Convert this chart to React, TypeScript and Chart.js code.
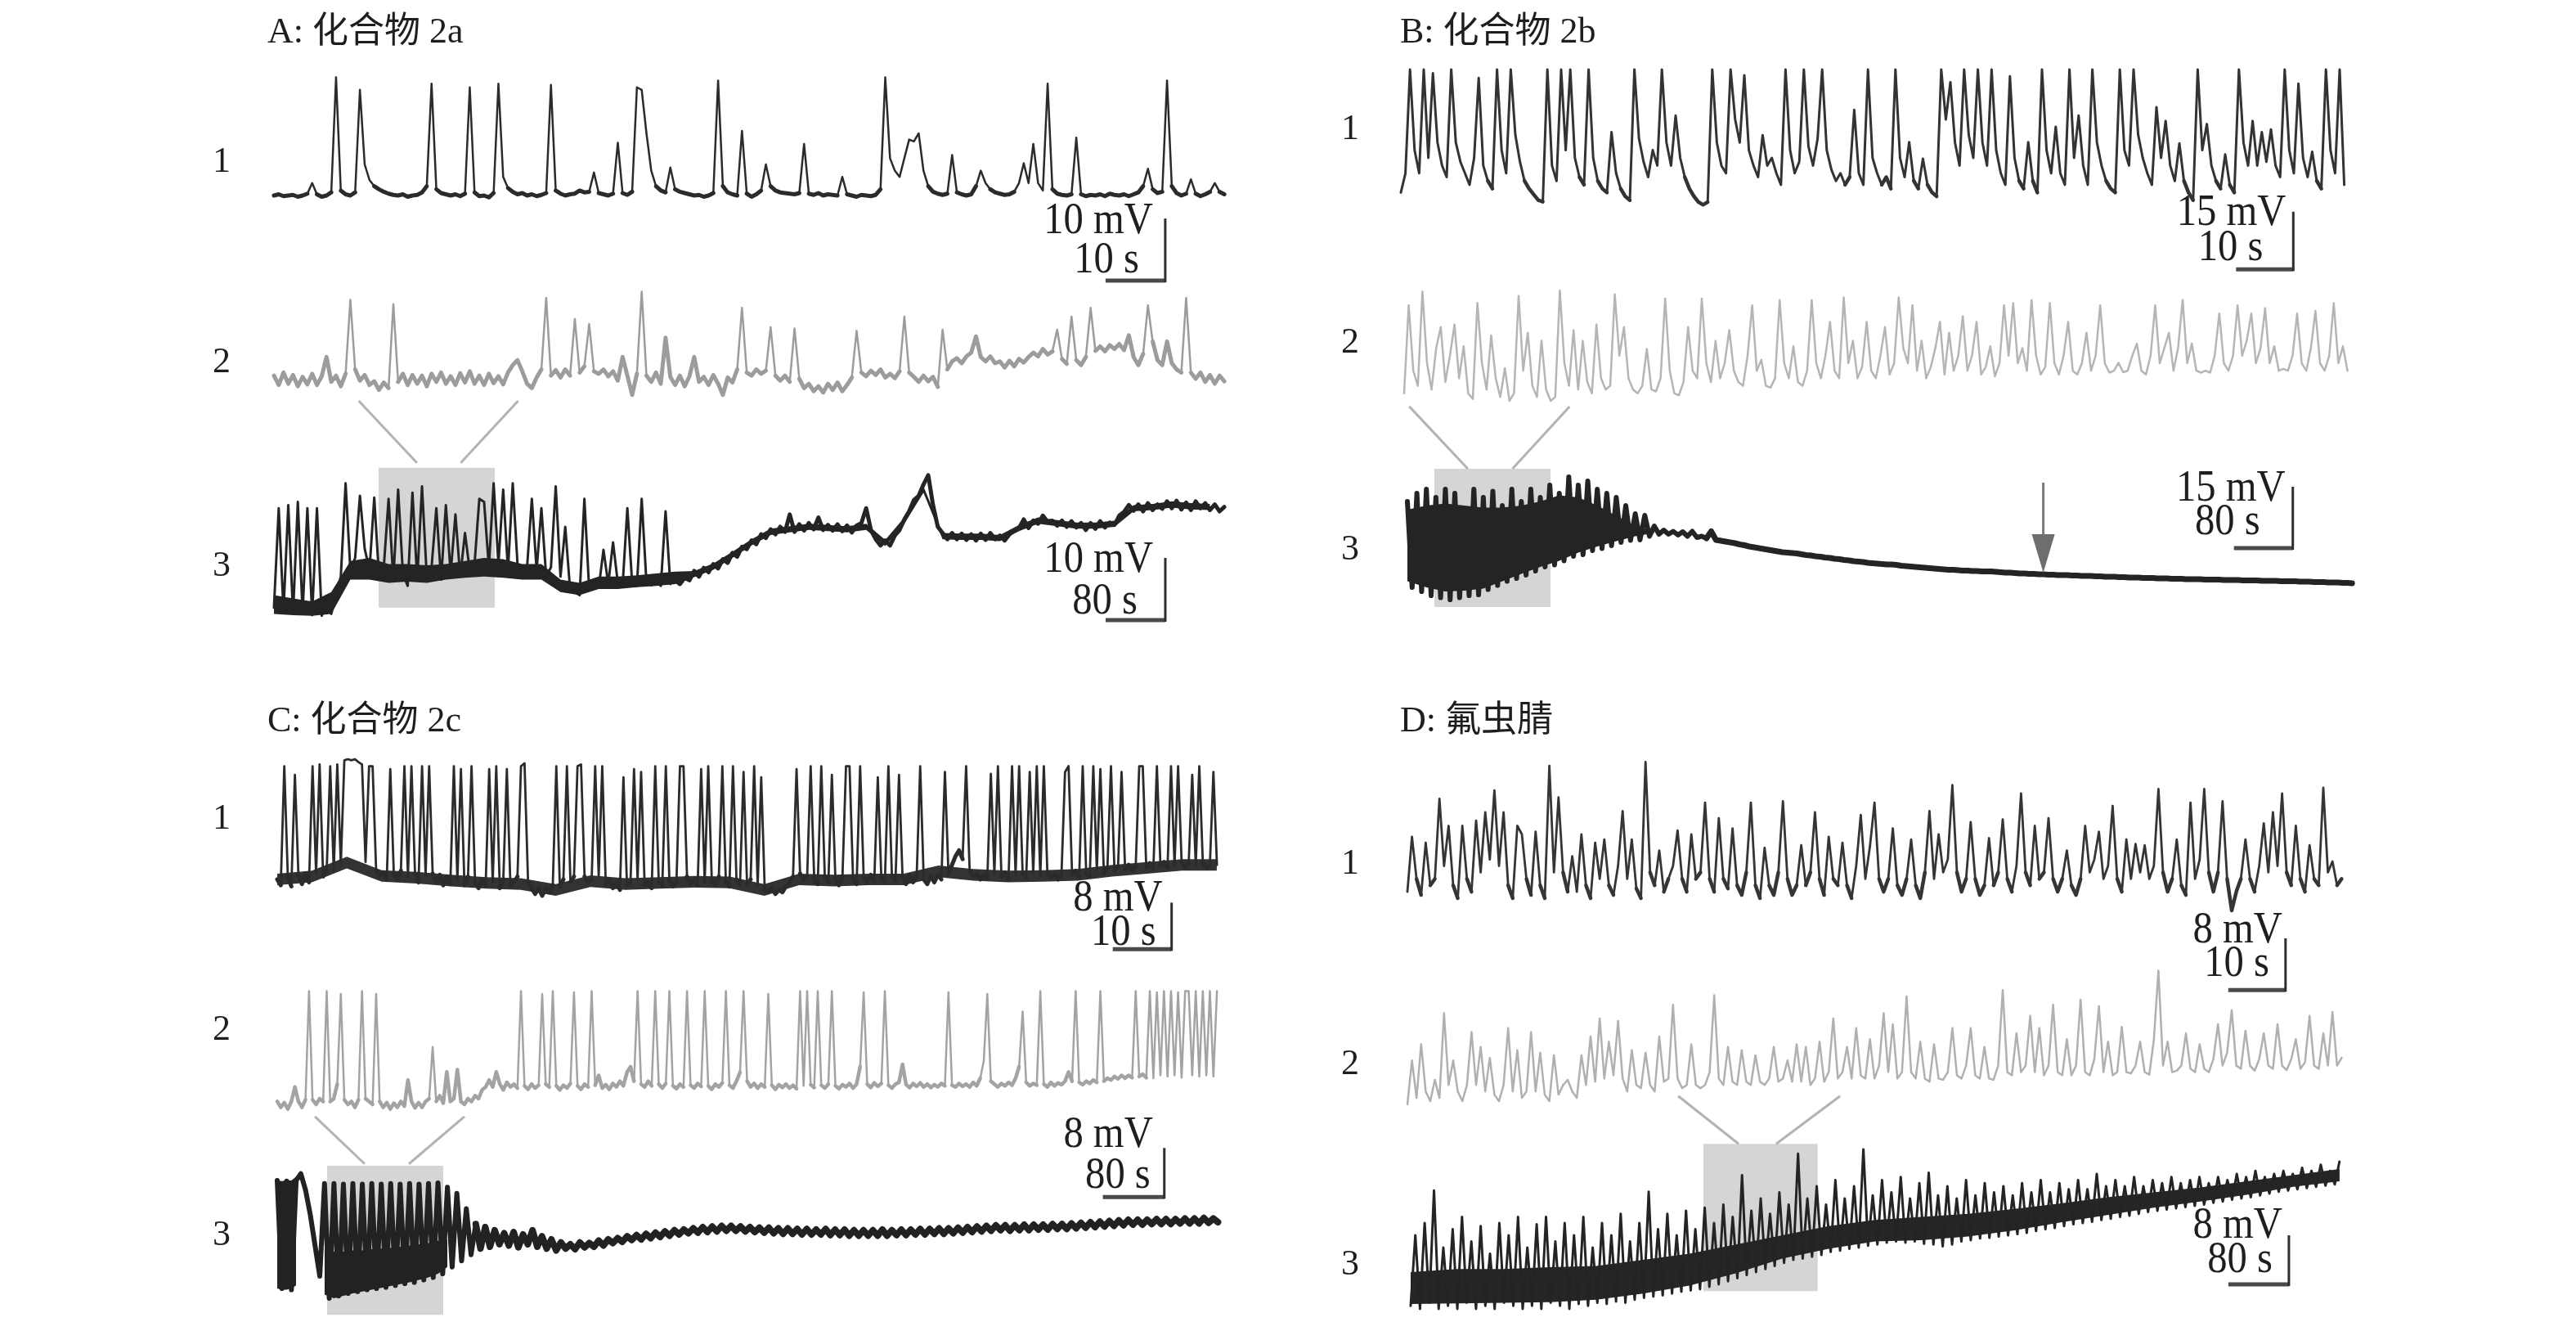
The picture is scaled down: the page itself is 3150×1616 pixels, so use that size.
import React, { useEffect, useRef } from "react";
import { Chart, registerables } from "chart.js";
Chart.register(...registerables);

const W = 3150;
const H = 1616;

// ---------------- data (mV, sampled at fixed step per trace) ----------------
const A1_MV = [0,.2,-.1,0,.1,-.2,0,.3,2,.2,
-.2,0,.5,19,.8,.2,0,.5,17,5,
2.5,1.5,1,.6,.3,.1,0,.2,-.2,0,
.1,.5,1.5,18,1,.4,.2,0,.2,-.1,
.3,17.4,.5,-.1,0,-.3,.4,18,3,1.2,
.6,.2,.4,0,.2,-.1,.1,.4,17.8,.8,
.3,0,.2,.3,.8,.5,.6,3.7,.4,.2,
0,.3,8.5,.4,.1,.6,17.4,17,10,4,
1.5,.8,.5,4.5,1,.6,.4,.2,0,.1,
-.2,0,.4,18.5,1.5,.5,.2,0,10.4,.3,
-.2,.2,.8,5,1.5,.8,.5,.4,.3,.2,
.4,8.3,.3,.1,.4,0,.2,.1,0,3,
.2,0,-.2,.1,0,-.1,.1,1,19,6,
4,3,6,9,8.7,10,4,1.5,.6,.3,
.1,.3,6.5,.5,.2,0,.2,1.5,4,2,
1,.5,.3,.1,.2,.6,2,5.2,2,8.3,
2,.8,18,1,.3,.1,0,.2,9.3,.2,
-.1,.1,0,.2,-.1,.3,.1,0,.2,-.1,
.2,.5,1.5,4.3,1,.4,.6,18.5,1.5,.4,
0,.3,2.6,.3,-.1,.2,.6,2,.6,.2];

const A2_MV = [0.5,-1,1,-0.8,0.6,-1.2,0.3,-0.9,0.8,-1,
0.4,3.5,-0.5,0.5,-1.2,0.8,12.7,1.5,-0.3,0.6,
-1,-0.4,-1.8,-0.6,-1.5,12,-0.5,0.8,-1,0.6,
-0.8,0.5,-1.2,0.8,-0.5,1,-0.8,0.4,-1,0.9,
-0.6,1.2,-0.8,0.5,-1,0.8,-0.7,0.4,-0.9,1,
2.2,3,1.2,-0.8,-1.5,0.2,1.5,13,0.5,1.4,
0.2,1.5,0.5,9.6,1,2,8.8,1.2,0.8,1.5,
0.4,1.2,-0.3,3.5,0.5,-2.6,0.8,14,0.5,-0.5,
1,-0.8,6.6,0.3,-1,0.5,-1.2,0.4,3.5,-0.5,
0.3,-1,0.6,-0.8,-2.6,0.2,-0.6,1.5,11.4,1,
0.5,1.5,0.8,1.3,8.3,0.5,-0.3,0.5,-0.5,8.1,
0,-1.5,-0.8,-2,-1.2,-2.2,-0.8,-1.8,-0.6,-2,
-1,0.2,7.7,1,0.4,1.3,0.6,1.5,0.2,0.8,
0.1,1.2,10,1,0.3,-0.5,0.5,-0.4,0.3,-1.3,
7.9,1.5,2.8,3.3,2.5,3.6,4.2,6.8,3.5,2.8,
3.6,2.5,2.8,1.8,2.9,2,3.2,2.6,3.5,4.2,
3.6,4.8,3.9,4.4,7.9,3.2,2.4,10,3,2.2,
3.5,11.4,4.5,5.2,4.4,5.4,4.8,5.6,4.6,7,
3.5,2.2,4,11.8,6,3,2.2,6,2.5,1.5,
1,13,1,0,1,-0.5,0.6,-0.8,0.5,-0.4];

const A3_MV = [-3,13,-3.5,13.5,-4,14,-3.8,13,-4.2,13,
-4.3,-2.5,-4,-1,2,17,3,5,15,6.5,
3,14.7,2,3.5,14.5,1.5,16,2.5,0.5,15.5,
1.5,16.5,2,3.5,13,1.5,13.5,2.5,12,2,
9,3,4,14.5,14,3.5,17,4,16,3,
17,4,2.5,3.5,14.5,3,13,2,3.5,16.5,
2,10,0,-0.5,-1,14.5,0,0.8,0.2,6.3,
0.8,7.5,1,0.5,13,1,0.5,14.5,1,0.6,
1.2,0.5,12.5,0.8,1.4,0.8,1.8,1.4,2.9,2,
3.4,2.7,4,3.3,4.8,4.2,5.8,5.2,6.8,6.4,
7.8,7.2,8.8,8.2,9.6,8.8,10,9.2,12,9.2,
10.4,9.4,10.6,9.6,11.5,9.5,10.3,9.4,10.4,9.3,
10.2,9.1,10.2,10.6,13,9.5,8,7,7.8,7,
8.6,9.5,11.2,12.5,14.3,15,16.8,18.3,13.5,10,
9,8,9,8,8.9,7.9,8.8,7.8,8.9,7.9,
9,8,8.6,7.8,8.8,9.4,9.8,11.2,9.8,11,
10.5,11.8,10.8,11,10.2,11,10,10.9,9.9,10.6,
9.5,10.6,9.7,10.9,9.9,10.7,10.3,11.8,12.4,13.5,
12.6,13.6,12.5,13.8,12.7,13.6,12.9,14.1,13,14.2,
12.8,13.9,12.7,14.1,13,13.8,12.7,13.6,12.5,13.2];

const B1_MV = [1,6,33,12,6,33,10,32,14,8,
5,33,14,9,6,3,10,30.8,8,4,
2,33,12,6,33,16,9,4,2,0.5,
-1,-1.4,33,8,4,33,12,33,10,5,
3,33,10,4,2,1,16.7,6,2,0,
-1,33,15,9,5,12,8,33,14,8,
21,10,5,2,0,-1.5,-2.2,-1.5,33,14,
8,6,33,20,14,31.5,12,8,5,15.9,
8,10,6,3,33,12,6,9,33,13,
8,15,33,12,7,4,6,3,5,22.5,
6,3,33,10,6,3,5,2,33,10,
5,14.1,4,2,9.8,3,1,0,33,20,
29.7,14,8,33,16,10,33,14,8,33,
12,6,3,31.2,10,4,2,14.1,4,1,
33,12,6,18.1,6,3,33,10,21,8,
3,33,14,8,4,2,1,33,12,8,
33,16,10,6,3,23.2,10,19.6,8,4,
13.8,4,1,-1,33,12,18.8,8,4,2,
10.9,3,1,33,14,8,19.6,8,16.7,9,
17.4,8,5,33,12,6,29.3,10,5,11.6,
4,2,33,12,6,33,3];

const B2_MV = [2,25.4,8,4,29,10,3,14,19.6,5,
12,20.3,6,14.5,2,0.5,26,10,3,17.4,
6,1,8.7,0,2,27.9,8,18.1,4,1,
16,3,0,1,29.3,10,4,18.8,3,15.9,
5,2,20.3,6,3,4,28.3,12,19.6,6,
3,2,4,13.8,3,2.5,6,27.2,8,2,
1.5,5,19.6,8,6,27.2,10,5,15.9,6,
10,18.8,8,5,4,12,25.4,8,10.9,4,
3.5,6,26.8,10,6,14.5,5,4,8,26.8,
10,6,12,21,8,6,27.5,10,16,6,
9,21,8,6,12,19.6,7,10,27.5,14,
10,25.4,8,16,6,9,14,21,7,18.1,
8,12,22.5,8,12,21,7,9,14.5,6.5,
10,25.4,12,26,10,14,8,26.8,12,7,
9,26,10,7,12,21,8,7,10,18.1,
8,12,25.4,10,7.5,8,10.1,7.6,8,12,
15.2,8,7,12,25.4,10,14,18.1,8,14,
26.8,10,15.2,8,7.5,8,7.5,12,23.2,10,
8,12,25.4,12,16,23.2,10,14,24.6,10,
14.5,8,8.5,8,12,23.2,10,8,14,23.9,
10,8,12,26,10,14.5,8];

const B3_MV = [20,-1,22,-2,23,-3,21,-3.5,23,-4,
22,-3.5,18,-3,23,-2.8,21,-1.5,22.5,-0.5,
19,0.5,23,1.2,20,2,23,3,21,4,
24,4.5,22,5.5,26,6.6,24,7,25,8,
23,8.5,22,9.2,21,10,19,10.5,17,10.6,
16.6,11.5,14,12,13,12,12.7,11.8,12.6,11.5,
12.7,11.2,11.5,11,12.7,10.6,10.4,10.2,10,9.8,
9.5,9.3,9,8.8,8.6,8.4,8.2,8,7.8,7.6,
7.5,7.4,7.3,7.1,6.9,6.8,6.6,6.5,6.3,6.2,
6,5.9,5.7,5.6,5.4,5.3,5.2,5,4.9,4.8,
4.7,4.6,4.6,4.5,4.3,4.2,4.1,4,3.9,3.8,
3.7,3.6,3.5,3.4,3.3,3.3,3.2,3.1,3.1,3,
3,2.9,2.9,2.9,2.8,2.7,2.6,2.6,2.5,2.4,
2.4,2.3,2.3,2.2,2.2,2.1,2.1,2,2,2,
1.9,1.9,1.8,1.8,1.8,1.7,1.7,1.6,1.6,1.6,
1.5,1.5,1.4,1.4,1.4,1.3,1.3,1.3,1.2,1.2,
1.2,1.1,1.1,1.1,1,1,1,1,0.9,0.9,
0.9,0.9,0.8,0.8,0.8,0.8,0.7,0.7,0.7,0.7,
0.6,0.6,0.6,0.6,0.5,0.5,0.5,0.5,0.4,0.4,
0.4,0.3,0.3,0.3,0.2,0.2,0.2,0.1,0.1,0];

const C1_MV = [0,-1,19.5,0.5,-1.2,18,0.8,-0.8,1,-0.5,
19.5,1,19.8,0.5,1.5,19.5,1.5,19.8,2.5,20.5,
20.7,20.5,20.7,20.2,19.8,3,19.5,19.5,1.5,0.5,
1.2,0,19,1,0,1.5,19.5,0.5,19.5,1,
-0.5,19.5,0.8,19.5,1,-0.5,0.8,-1,0.5,-0.8,
19.5,0,19,-1,0.5,19.5,-0.5,-1.5,0,-1,
19,-0.5,19.5,-1.5,0,19,-1,-0.5,0.5,19.5,
20,-0.5,-1.5,-2.5,-1.5,-2.8,-1.5,-2.2,-1,19.5,
-1.2,0,19.5,-0.5,0.5,19.5,19.8,0.5,-0.5,0,
19.5,0.5,19.5,-0.8,0,-1.5,-0.5,-1.8,17.6,-1,
-0.5,19,0,18.5,-1,-0.5,-1.5,19.5,-0.5,-1,
19.5,0,-1.2,-0.5,19.5,19.5,0.5,-0.8,0,-1,
19,-0.5,19.5,0,-1,0.5,19.5,-0.5,-1.2,19.5,
0,-0.8,18.5,-1,0,19.5,-1,17.6,-1.8,-2.2,
-1.5,-2.5,-1.8,-2.2,-1.2,-0.5,0.5,19,1,0,
0.5,19.5,0,-0.8,19.5,0.5,-0.5,18,0,-1,
0.5,19.5,19.5,0,-0.8,19.5,0.5,-0.5,0.8,-0.3,
17.6,0.3,-0.5,19.5,0.5,-0.2,18,0.5,-0.8,0.8,
-0.5,0.5,19.5,0,-0.8,0.6,-0.5,0.8,0,18.5,
1,2.5,4,5,3.5,19.5,1.5,0.5,1,0,
0.8,0.2,18.2,1,19.5,0.5,1.2,0,19.5,0.8,
19.5,1,0.2,18.5,1,19.5,0.5,19.5,1.2,0.3,
1,0,1,18.5,19.5,0.8,1.5,0.5,19.5,1,
0.5,19.5,1.5,19,1,2,19.5,1.5,2.2,18.5,
1.8,2.5,1.5,2.2,19.5,19.5,2,2.8,1.8,19.5,
2.5,3,2,19.5,2.5,19.5,3,2,2.8,18,
2.5,19.5,3,2,2.5,18.5,2.5];

const C2_MV = [0.5,-0.5,0.3,-0.8,0.5,3,0.5,-0.5,0.8,19.5,
0.8,0,1,0.5,19.5,0.5,1,3.5,19,0.8,
0,0.5,-0.5,0.8,19.5,1,0.5,0,19,0.5,
-0.5,0.3,-0.8,0.2,-0.5,0.5,-0.3,4.2,0.5,-0.6,
0.3,-0.5,0.5,1,9.9,0.5,1.5,0.2,5.6,0.5,
1,6,0.5,0,1,0.5,1.5,1,2.5,3,
4.2,3,5.6,3.5,2.5,3.8,3,3.5,2.8,19.5,
3.2,2.6,3.5,2.8,3.3,19,3.5,3,19.5,3.2,
2.5,3.3,2.8,3.6,19.3,3.2,2.6,3.5,3,19.5,
3.3,5,2.8,3.4,2.6,3.6,3,4,3.2,5.5,
6.5,4,19.5,3.5,3,4,3.2,19.5,3.5,2.8,
3.6,19.5,3.2,2.7,3.5,3,19.5,3.3,2.8,3.6,
3.1,19.5,3.2,2.6,3.5,3,3.7,19.5,3.3,2.8,
4,5.5,19.5,4,3,3.6,2.8,3.5,3,19,
3.3,2.6,3.4,2.9,3.5,2.8,3.3,2.7,19.5,3.2,
19.5,3.4,2.9,19.5,3.3,2.8,3.5,19.5,3.2,2.7,
3.4,3,3.6,2.8,3.5,6.5,19.3,3.5,2.9,3.7,
3.1,3.6,19.5,3.3,2.8,3.5,3.8,6.9,3.4,2.9,
3.6,3.1,3.7,3,3.5,2.9,3.4,3,3.6,3.2,
19.3,3.3,3,3.6,3.1,3.5,3,3.8,3.2,4.5,
7.5,19,4,3.5,3,3.6,3.2,3.8,3.3,4.5,
6.5,16,3.8,3.2,3.6,3.3,19.5,3.5,3,3.8,
3.2,3.7,3.4,4,5.6,4,19.5,3.8,3.4,4,
3.6,4.2,3.8,19.5,4,4.5,4.2,4.8,4.4,5,
4.5,5,4.6,19.5,4.8,5.2,4.6,19.5,4.5,19.3,
5,19.5,4.8,19.5,5,19.3,4.6,19.5,19.5,5,
19.5,4.8,19.5,5,19.5,4.8,19.5];

const C3_MV = [7.6,-10,7.5,-10.2,7.6,8.7,6,2,-3,-8,
7.1,-11.6,7.1,-11.2,7,-10.8,7.1,-10.5,7,-10.2,
7.1,-10,7,-9.8,7.1,-9.5,7,-9.2,7.1,-9,
7,-8.6,7.1,-8.2,7.2,-7.6,6.5,-6.5,5.5,-5.5,
3,-4.5,0.5,-3.5,0,-3.2,-0.5,-2.8,-1,-3,
-0.8,-3.3,-1.2,-2.8,-0.5,-3.2,-1.5,-3.5,-2,-3.8,
-2.5,-3.5,-2.8,-3.6,-2.5,-3.3,-2.6,-3.2,-2.2,-3,
-2,-2.6,-1.8,-2.4,-1.5,-2.1,-1.3,-2,-1.1,-1.8,
-0.9,-1.6,-0.7,-1.4,-0.5,-1.2,-0.4,-1,-0.2,-0.9,
0,-0.8,0.1,-0.7,0.2,-0.6,0.2,-0.6,0.1,-0.7,
0,-0.8,-0.1,-0.9,-0.1,-1,-0.2,-1.1,-0.2,-1.1,
-0.3,-1.2,-0.3,-1.2,-0.4,-1.2,-0.3,-1.3,-0.4,-1.3,
-0.4,-1.4,-0.5,-1.4,-0.5,-1.4,-0.5,-1.4,-0.4,-1.4,
-0.5,-1.3,-0.4,-1.3,-0.4,-1.2,-0.3,-1.2,-0.3,-1.1,
-0.2,-1.1,-0.2,-1,-0.1,-0.9,0,-0.8,0.1,-0.7,
0.2,-0.6,0.3,-0.5,0.3,-0.6,0.3,-0.5,0.4,-0.5,
0.4,-0.4,0.4,-0.4,0.5,-0.3,0.5,-0.3,0.6,-0.2,
0.7,-0.1,0.8,0,0.9,0.1,1,0.2,1.1,0.3,
1.2,0.4,1.2,0.4,1.2,0.5,1.3,0.5,1.3,0.5,
1.3,0.6,1.4,0.6,1.4,0.6,1.5,0.7,1.4,0.8];

const D1_MV = [1,9.5,3,0.5,8.6,2,3,15.4,5,11.2,
2,0,11.2,3,1,12,4,13.3,6,16.7,
5,13.3,2,0,11.2,9.9,3,0.5,10.3,2,
0,20.5,4,15.6,4,1,6.5,1,9.9,2,
0,8.6,3,9.1,2,0.5,5,13.5,3,9.1,
1.5,0,21.1,4,2,7.4,1,3,5,10.5,
3,1,9.9,3,4,14.8,3,1,12.4,3,
1.5,10.8,2,0.5,4,14.8,2,0,7.8,2,
0.5,4,15,3,0.5,2,8.2,2,4,13.3,
3,0.5,9.5,3,2,8.6,2,0,5,12.9,
3,8,14.8,3,1,3,10.8,2,0.5,3,
9.1,2,0,4,13.5,3,9.9,4,6,17.5,
4,1,3,11.8,3,0.5,2,9.3,2,4,
12.2,3,1,5,16.2,4,2,11.2,3,4,
12.4,3,1,3,7.4,2,0.5,3,11.2,4,
6,10.3,3,5,14.3,3,1,9.1,3,8.4,
4,8.2,3,5,16.9,4,1,3,9.1,2,
0.5,14.8,3,6,16.9,4,1,4,15,3,
-1.9,1,3,9.1,3,1,5,11.6,4,13.3,
5,16.2,4,2,11.2,3,1,8.2,3,2,
17.1,4,5.7,2,3];

const D2_MV = [0,6.8,1,9.3,2,0.5,3.8,1,14.1,3,
6.8,2,0.5,3,11.2,3,8.9,2,7.2,1.5,
0.5,3,11.8,2,8.4,1,2,11.2,2,8,
1.5,0.5,7.6,1.5,3,3.8,2,1,7.6,3,
10.5,3.5,13.3,4,9.7,4.5,12.9,4,2,8.4,
3,2.5,8,3,2,10.5,3.5,4,15.4,4,
2.5,3,9.3,3,2.5,3,5,16.9,4,3,
8.9,3.5,3,8.4,3.5,3,7.6,3.5,3,4,
8.9,3.5,4,6.8,3.5,9.3,3.5,8.9,3,4,
9.7,3.5,5,13.3,4,5,8.9,4,11.8,4.5,
4,10.1,4,6,14.1,5,12.4,4,5,16.7,
5,4,9.7,4,3.5,9.3,4,3.8,5,11.8,
4.5,4,6,11.8,4.5,4,8.9,4,3.8,6,
17.7,5,4.5,11,5,6,13.7,5,11.8,4.5,
6,15.4,5,4.5,10.1,4.5,6,16.2,5,4.5,
7,15.2,5,9.7,4.5,5,12,5,4.8,6,
9.7,5,4.6,10,20.7,6,9.7,5,5.2,6,
11,5.5,5,9.3,5.5,5,7,12.4,6,8,
14.6,6,5.5,11.4,6,5.2,7,11,6,5.5,
12.4,6,5.3,7,10.1,5.5,6.5,13.7,6,5.5,
11,6,14.3,6,7.2];

const D3_MV = [0.5,12,0,14,1,19.3,0,10,0.5,13,
0,15,1,11,0,13.5,0.5,9,0,14,
1,12,0.5,15,0,10,0.5,13.8,0,15,
1,11,0.5,14,0,12,0.8,15,0.5,10,
1,14,0.8,12,1.2,15.5,1,11,1.5,14,
1.8,19.1,2,13,2.2,15.5,2.5,12,2.8,16,
3,13,3.2,16.5,3.6,14,4,17,4.5,15,
5,21.8,5.5,16,6,18,6.5,15.5,7,19,
7.5,17,8,25.3,8.2,18,8.5,20,8.8,17,
9.3,21,9.5,18,9.8,20,10,26,10.3,18.5,
10.5,21,10.8,19,11,21.5,10.8,18,11,20.5,
10.6,22.2,10.5,18.5,10.2,20,10.5,18,11,21,
11.2,18.5,11.5,20.5,11.6,19,11.8,20,12,18.5,
12.2,20.5,12.4,19,12.7,21,13,19,13.2,20.5,
13.5,19.5,13.8,21,14,19.5,14.2,22,14.5,20,
14.7,21,15,20,15.2,21.5,15.5,20,15.8,21,
16,20.5,16.2,21.5,16.4,20.5,16.6,21,16.8,21.5,
17,20.5,17.3,21.5,17.5,21,17.8,22,18,21.5,
18.2,22.5,18.5,21.5,18.8,22,19.1,22.5,19.3,22,
19.5,23,19.7,22.5,19.9,23.5,20.1,22.5,20.3,24];

// dense-activity envelopes (low / high edge of the dark core of a trace), mV
const A3_CORE_LO = [-4,-4.2,-4.3,-4,1.5,1.5,1,1.2,1,1.5,1.8,2,1.8,1.5,1.5,-0.5,-1,0,0,0.3,0.5,0.8,
  1.9,3.1,5,7,8.7,9.1,9.5,9.3,9.1,9.5,6.9,10.5,15.5,8,7.9,7.9,7.7,9.3,10.5,10.1,9.7,9.7,10,12.5,12.7,13.1,12.8,12.7];
const A3_CORE_HI = [-1,-1.5,-2,-0.5,4.5,5,4,4,3.8,4,4.5,5,4.8,4,4,1.5,1,2,2,2.2,2.5,2.8,
  2.9,4.1,6,8,9.7,10.1,10.5,10.3,10.1,10.5,7.9,11.5,16.5,9,8.9,8.9,8.7,10.3,11.5,11.1,10.7,10.7,11,13.5,13.7,14.1,13.8,13.7];
const B3_CORE_LO = [0.5,-1,-2,-1.8,-1.3,0.5,2.3,4,5.5,7.5,9,10.3,11.5,12.3];
const B3_CORE_HI = [18,19,19.5,19,18.5,18.5,19,20,21.5,21,19,16.5,14,12.8];
const C1_CORE_LO = [-1,-0.5,1.9,-0.4,-0.7,-1.2,-1.6,-1.8,-2.8,-1.3,-1.8,-1.6,-1.4,-1.5,-2.8,-1,-1.2,-1,-1,0.4,-0.2,-0.5,-0.4,-0.2,0.5,1,1.5,1.5];
const C1_CORE_HI = [1,1.5,3.9,1.6,1.3,0.8,0.4,0.2,-0.8,0.7,0.2,0.4,0.6,0.5,-0.8,1,0.8,1,1,2.4,1.8,1.5,1.6,1.8,2.5,3,3.5,3.5];
const C3_HEAD_LO = [-10,-10.2,-10.2,-10,-9.5];
const C3_HEAD_HI = [7.6,7.5,7.6,7.6,8.2];
const C3_BURST_LO = [-11,-11.6,-11.2,-10.8,-10.5,-10.2,-9.9,-9.6,-9.3,-9,-8.6,-8.2,-7.6,-6.5];
const C3_BURST_HI = [-3.5,-4,-4,-3.8,-3.8,-3.6,-3.5,-3.4,-3.2,-3,-2.8,-2.6,-2.2,-2];
const D3_CORE_LO = [0.8,0.9,1,1.1,1.5,2.5,3.8,5.8,8.2,9.8,11,11.2,11.8,12.8,14.1,15.3,16.5,17.5,18.6,19.9,20.8];
const D3_CORE_HI = [6,6.5,6.5,6.8,7,8,9,10.5,12,13.5,14.5,15,15.5,16.3,17.2,18.2,19,19.8,20.8,21.8,22.8];

// ---------------- layout / style (pixels, colours) ----------------
// width: spike stroke; baseWidth: stroke where both ends stay below baseMax (mV);
// thickWidth: stroke from time thickFrom (s) on
const TRACES = [
  { id: "A1", values: A1_MV, dt: 0.8, x0: 335, pxPerS: 7.3, y0: 239, pxPerMV: 7.6, color: "#2b2b2b", width: 2.5, baseMax: 1.6, baseWidth: 5 },
  { id: "A2", values: A2_MV, dt: 0.8, x0: 335, pxPerS: 7.3, y0: 463, pxPerMV: 7.6, color: "#9c9c9c", width: 2.5, baseMax: 7.5, baseWidth: 5 },
  { id: "A3", values: A3_MV, dt: 6.4, x0: 335, pxPerS: 0.9125, y0: 720, pxPerMV: 7.6, color: "#242424", width: 3, thickFrom: 537, thickWidth: 5 },
  { id: "B1", values: B1_MV, dt: 0.8, x0: 1713, pxPerS: 7.0, y0: 240, pxPerMV: 4.7, color: "#333333", width: 3, baseMax: 6, baseWidth: 4.5 },
  { id: "B2", values: B2_MV, dt: 0.8, x0: 1717, pxPerS: 7.0, y0: 490, pxPerMV: 4.6, color: "#b5b5b5", width: 2.5 },
  { id: "B3", values: B3_MV, dt: 6.45, x0: 1721, pxPerS: 0.9, y0: 713, pxPerMV: 5.0, color: "#242424", width: 6, thickFrom: 400, thickWidth: 7 },
  { id: "C1", values: C1_MV, dt: 0.6, x0: 339, pxPerS: 7.2, y0: 1075, pxPerMV: 7.1, color: "#2b2b2b", width: 2.8, baseMax: 5.5, baseWidth: 5 },
  { id: "C2", values: C2_MV, dt: 0.6, x0: 339, pxPerS: 7.2, y0: 1350, pxPerMV: 7.1, color: "#a3a3a3", width: 2.5, baseMax: 7.2, baseWidth: 4.5 },
  { id: "C3", values: C3_MV, dt: 6.15, x0: 339, pxPerS: 0.94, y0: 1500, pxPerMV: 7.5, color: "#222222", width: 6, thickFrom: 258, thickWidth: 8 },
  { id: "D1", values: D1_MV, dt: 0.8, x0: 1721, pxPerS: 7.0, y0: 1098, pxPerMV: 7.9, color: "#353535", width: 2.8, baseMax: 4.5, baseWidth: 4.5 },
  { id: "D2", values: D2_MV, dt: 0.8, x0: 1721, pxPerS: 7.0, y0: 1350, pxPerMV: 7.9, color: "#b0b0b0", width: 2.5 },
  { id: "D3", values: D3_MV, dt: 6.17, x0: 1725, pxPerS: 0.925, y0: 1600, pxPerMV: 7.5, color: "#242424", width: 3 },
];

// filled envelopes: start time t0 (s), step dt (s)
const BANDS = [
  { trace: "A3", t0: 0, dt: 25.6, lo: A3_CORE_LO, hi: A3_CORE_HI, color: "#242424" },
  { trace: "B3", t0: 0, dt: 25.8, lo: B3_CORE_LO, hi: B3_CORE_HI, color: "#242424" },
  { trace: "C1", t0: 0, dt: 5.91, lo: C1_CORE_LO, hi: C1_CORE_HI, color: "#333333" },
  { trace: "C3", t0: 0, dt: 6.15, lo: C3_HEAD_LO, hi: C3_HEAD_HI, color: "#222222" },
  { trace: "C3", t0: 61.5, dt: 12.3, lo: C3_BURST_LO, hi: C3_BURST_HI, color: "#222222" },
  { trace: "D3", t0: 0, dt: 61.4, lo: D3_CORE_LO, hi: D3_CORE_HI, color: "#262626" },
];

// scale bars: corner (t, v) in trace units; lengths in mV and s
const SCALE_BARS = [
  { trace: "A1", t: 149.3, v: -13.7, dv: 10, ds: 10, vLabel: "10 mV", sLabel: "10 s", vText: [-15, -58], sText: [-32, -10] },
  { trace: "A3", t: 1194.5, v: -5.0, dv: 10, ds: 80, vLabel: "10 mV", sLabel: "80 s", vText: [-15, -59], sText: [-34, -8] },
  { trace: "B1", t: 155.9, v: -19, dv: 15, ds: 10, vLabel: "15 mV", sLabel: "10 s", vText: [-9, -54], sText: [-37, -11] },
  { trace: "B3", t: 1203, v: 8.6, dv: 15, ds: 80, vLabel: "15 mV", sLabel: "80 s", vText: [-9, -58], sText: [-40, -17] },
  { trace: "C1", t: 151.9, v: -12, dv: 8, ds: 10, vLabel: "8 mV", sLabel: "10 s", vText: [-11, -47], sText: [-19, -5] },
  { trace: "C3", t: 1154, v: 4.9, dv: 8, ds: 80, vLabel: "8 mV", sLabel: "80 s", vText: [-14, -61], sText: [-17, -11] },
  { trace: "D1", t: 153.4, v: -14.2, dv: 8, ds: 10, vLabel: "8 mV", sLabel: "10 s", vText: [-4, -58], sText: [-20, -17] },
  { trace: "D3", t: 1161, v: 4, dv: 8, ds: 80, vLabel: "8 mV", sLabel: "80 s", vText: [-8, -57], sText: [-20, -15] },
];

// highlighted windows on trace 3 (time s, mV)
const BOXES = [
  { trace: "A3", t0: 140.3, t1: 295.9, v0: -3.0, v1: 19.5 },
  { trace: "B3", t0: 36.7, t1: 194.4, v0: -5.8, v1: 28 },
  { trace: "C3", t0: 64.9, t1: 216, v0: -14.3, v1: 10 },
  { trace: "D3", t0: 387, t1: 538, v0: 2.9, v1: 26.9 },
];

// zoom connector lines: from trace 2 point to trace 3 point
const LINKS = [
  { from: "A2", to: "A3", a: [14.2, -3.55], b: [191.6, 20.3] },
  { from: "A2", to: "A3", a: [40.9, -3.55], b: [250.3, 20.3] },
  { from: "B2", to: "B3", a: [0.9, -1.5], b: [82, 28] },
  { from: "B2", to: "B3", a: [28.9, -1.5], b: [142.8, 28] },
  { from: "C2", to: "C3", a: [6.4, -2.1], b: [113.8, 10.3] },
  { from: "C2", to: "C3", a: [31.8, -2.1], b: [171.3, 10.3] },
  { from: "D2", to: "D3", a: [47.3, 1.3], b: [433.5, 26.9] },
  { from: "D2", to: "D3", a: [75.6, 1.3], b: [483.2, 26.9] },
];

const ARROWS = [{ trace: "B3", t: 864, vTop: 24.6, vHead: 12, vTip: 2.6 }];

const TITLES = [
  { text: "A: 化合物 2a", x: 327, y: 52 },
  { text: "B: 化合物 2b", x: 1712, y: 52 },
  { text: "C: 化合物 2c", x: 327, y: 894 },
  { text: "D: 氟虫腈", x: 1712, y: 894 },
];

const ROW_LABELS = [
  { text: "1", x: 271, y: 210 }, { text: "2", x: 271, y: 455 }, { text: "3", x: 271, y: 704 },
  { text: "1", x: 1651, y: 170 }, { text: "2", x: 1651, y: 431 }, { text: "3", x: 1651, y: 684 },
  { text: "1", x: 271, y: 1013 }, { text: "2", x: 271, y: 1271 }, { text: "3", x: 271, y: 1522 },
  { text: "1", x: 1651, y: 1068 }, { text: "2", x: 1651, y: 1313 }, { text: "3", x: 1651, y: 1558 },
];

const SERIF = '"Liberation Serif", "Times New Roman", "Noto Sans CJK SC", serif';

function sx(chart: any, id: string, t: number) { return chart.scales["x" + id].getPixelForValue(t); }
function sy(chart: any, id: string, v: number) { return chart.scales["y" + id].getPixelForValue(v); }

function drawText(ctx: any, str: string, x: number, y: number, align: string, size: number, squeeze: number) {
  ctx.save();
  ctx.translate(x, y);
  ctx.scale(squeeze, 1);
  ctx.font = `${size}px ${SERIF}`;
  ctx.fillStyle = "#1e1e1e";
  ctx.textAlign = align;
  ctx.textBaseline = "alphabetic";
  ctx.fillText(str, 0, 0);
  ctx.restore();
}

const decor = {
  id: "decor",
  beforeDraw(chart: any) {
    const ctx = chart.ctx;
    ctx.save();
    ctx.fillStyle = "#ffffff";
    ctx.fillRect(0, 0, chart.width, chart.height);
    ctx.restore();
  },
  beforeDatasetsDraw(chart: any) {
    const ctx = chart.ctx;
    ctx.save();
    ctx.fillStyle = "#d5d5d5";
    for (const b of BOXES) {
      const x1 = sx(chart, b.trace, b.t0), x2 = sx(chart, b.trace, b.t1);
      const y1 = sy(chart, b.trace, b.v1), y2 = sy(chart, b.trace, b.v0);
      ctx.fillRect(x1, y1, x2 - x1, y2 - y1);
    }
    ctx.strokeStyle = "#b3b3b3";
    ctx.lineWidth = 3;
    for (const l of LINKS) {
      ctx.beginPath();
      ctx.moveTo(sx(chart, l.from, l.a[0]), sy(chart, l.from, l.a[1]));
      ctx.lineTo(sx(chart, l.to, l.b[0]), sy(chart, l.to, l.b[1]));
      ctx.stroke();
    }
    ctx.restore();
  },
  afterDatasetsDraw(chart: any) {
    const ctx = chart.ctx;
    ctx.save();
    for (const s of SCALE_BARS) {
      const cx = sx(chart, s.trace, s.t), cy = sy(chart, s.trace, s.v);
      const xl = sx(chart, s.trace, s.t - s.ds);
      const yt = sy(chart, s.trace, s.v + s.dv);
      ctx.strokeStyle = "#4a4a4a";
      ctx.lineWidth = 5;
      ctx.beginPath(); ctx.moveTo(xl, cy); ctx.lineTo(cx, cy); ctx.stroke();
      ctx.strokeStyle = "#2e2e2e";
      ctx.lineWidth = 3;
      ctx.beginPath(); ctx.moveTo(cx, cy + 2); ctx.lineTo(cx, yt); ctx.stroke();
      drawText(ctx, s.vLabel, cx + s.vText[0], cy + s.vText[1], "right", 54, 0.9);
      drawText(ctx, s.sLabel, cx + s.sText[0], cy + s.sText[1], "right", 54, 0.9);
    }
    for (const a of ARROWS) {
      const x = sx(chart, a.trace, a.t);
      const yTop = sy(chart, a.trace, a.vTop), yHead = sy(chart, a.trace, a.vHead), yTip = sy(chart, a.trace, a.vTip);
      ctx.strokeStyle = "#7a7a7a";
      ctx.lineWidth = 3;
      ctx.beginPath(); ctx.moveTo(x, yTop); ctx.lineTo(x, yHead); ctx.stroke();
      ctx.fillStyle = "#6e6e6e";
      ctx.beginPath(); ctx.moveTo(x - 14, yHead); ctx.lineTo(x + 14, yHead); ctx.lineTo(x, yTip); ctx.closePath(); ctx.fill();
    }
    for (const t of TITLES) drawText(ctx, t.text, t.x, t.y, "left", 44, 1);
    for (const r of ROW_LABELS) drawText(ctx, r.text, r.x, r.y, "center", 44, 1);
    ctx.restore();
  },
};

function segmentWidth(t: any) {
  return (c: any) => {
    if (t.thickFrom !== undefined && c.p0.parsed.x >= t.thickFrom) return t.thickWidth;
    if (t.baseMax !== undefined && c.p0.parsed.y < t.baseMax && c.p1.parsed.y < t.baseMax) return t.baseWidth;
    return t.width;
  };
}

export default function App() {
  const ref = useRef<HTMLCanvasElement>(null);
  useEffect(() => {
    const scales: any = {};
    for (const t of TRACES) {
      scales["x" + t.id] = {
        type: "linear", axis: "x", display: false, bounds: "data",
        min: -t.x0 / t.pxPerS, max: (W - t.x0) / t.pxPerS,
      };
      scales["y" + t.id] = {
        type: "linear", axis: "y", display: false, bounds: "data",
        min: (t.y0 - H) / t.pxPerMV, max: t.y0 / t.pxPerMV,
      };
    }
    const datasets: any[] = TRACES.map((t: any) => ({
      label: t.id,
      data: t.values.map((v: number, i: number) => ({ x: i * t.dt, y: v })),
      xAxisID: "x" + t.id,
      yAxisID: "y" + t.id,
      borderColor: t.color,
      borderWidth: t.width,
      pointRadius: 0,
      tension: 0,
      fill: false,
      borderJoinStyle: "round",
      borderCapStyle: "round",
      segment: { borderWidth: segmentWidth(t) },
    }));
    for (const b of BANDS) {
      const loIndex = datasets.length;
      datasets.push({
        label: b.trace + " core low",
        data: b.lo.map((v, i) => ({ x: b.t0 + i * b.dt, y: v })),
        xAxisID: "x" + b.trace, yAxisID: "y" + b.trace,
        borderColor: "rgba(0,0,0,0)", borderWidth: 1, pointRadius: 0, tension: 0, fill: false,
      });
      datasets.push({
        label: b.trace + " core high",
        data: b.hi.map((v, i) => ({ x: b.t0 + i * b.dt, y: v })),
        xAxisID: "x" + b.trace, yAxisID: "y" + b.trace,
        borderColor: "rgba(0,0,0,0)", borderWidth: 1, pointRadius: 0, tension: 0,
        fill: { target: loIndex }, backgroundColor: b.color,
      });
    }
    const chart = new Chart(ref.current as HTMLCanvasElement, {
      type: "line",
      data: { datasets } as any,
      options: {
        animation: false,
        responsive: false,
        devicePixelRatio: 1,
        events: [],
        layout: { padding: 0 },
        plugins: { legend: { display: false }, tooltip: { enabled: false }, title: { display: false } },
        scales,
      } as any,
      plugins: [decor as any],
    });
    return () => chart.destroy();
  }, []);
  return (
    <div style={{ position: "fixed", left: 0, top: 0, width: W, height: H, background: "#fff" }}>
      <canvas ref={ref} width={W} height={H} style={{ width: W, height: H, display: "block" }} />
    </div>
  );
}
